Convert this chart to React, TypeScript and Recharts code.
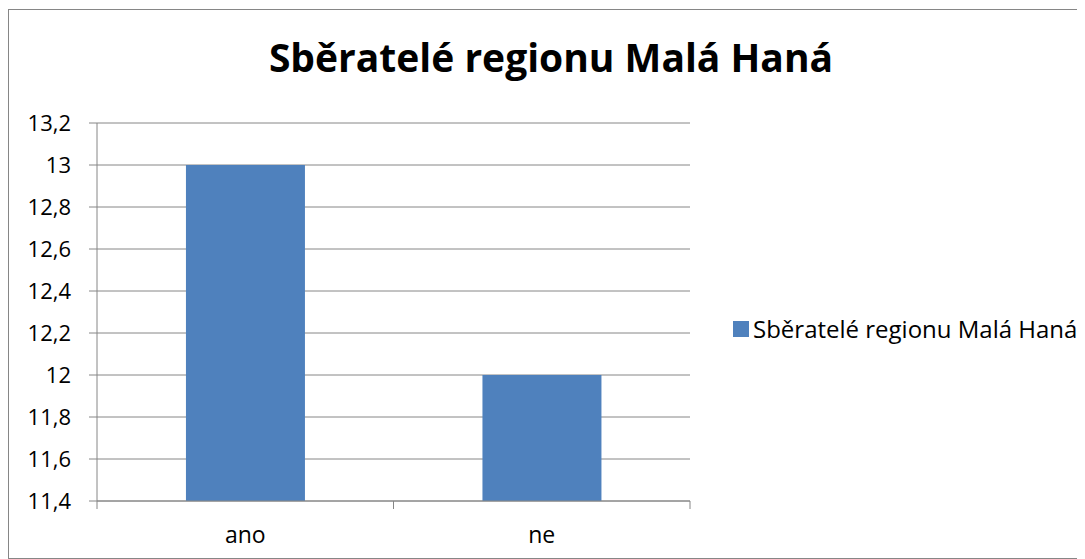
import React from 'react';
import { BarChart, Bar, XAxis, YAxis, CartesianGrid } from 'recharts';

const categories = ['ano', 'ne'];
const seriesName = 'Sběratelé regionu Malá Haná';
const seriesValues = [13, 12];
const yTicks = [11.4, 11.6, 11.8, 12, 12.2, 12.4, 12.6, 12.8, 13, 13.2];
const titleText = 'Sběratelé regionu Malá Haná';

const data = categories.map((c, i) => ({ name: c, value: seriesValues[i] }));

const FONT = '"Open Sans", sans-serif';
const GRAY = '#868686';
const BLUE = '#4f81bd';

const fmt = (v: number) => {
  if (Math.abs(v - Math.round(v)) < 1e-9) return String(Math.round(v));
  return v.toFixed(1).replace('.', ',');
};

const XTick = (props: any) => {
  const { x, y, payload, width, visibleTicksCount } = props;
  const half = payload && payload.offset ? payload.offset : (width / (visibleTicksCount || categories.length)) / 2;
  return (
    <g>
      <line x1={x - half} x2={x - half} y1={y} y2={y + 8} stroke={GRAY} strokeWidth={1} />
      <line x1={x + half} x2={x + half} y1={y} y2={y + 8} stroke={GRAY} strokeWidth={1} />
      <text x={x} y={y + 42} textAnchor="middle" fontFamily={FONT} fontSize={23} fill="#000">
        {payload.value}
      </text>
    </g>
  );
};

export default function App() {
  return (
    <div style={{ paddingTop: 1 }}>
      <div
        style={{
          position: 'relative',
          width: 1075,
          height: 548,
          border: `1px solid ${GRAY}`,
          background: '#fff',
        }}
      >
        <div
          style={{
            position: 'absolute',
            left: 0,
            width: 1084,
            top: 27,
            textAlign: 'center',
            fontFamily: FONT,
            fontWeight: 700,
            fontSize: 39,
            lineHeight: '39px',
            color: '#000',
            whiteSpace: 'nowrap',
          }}
        >
          {titleText}
        </div>
        <div
          style={{
            position: 'absolute',
            left: 724,
            top: 307,
            display: 'flex',
            alignItems: 'center',
            lineHeight: '24px',
          }}
        >
          <span style={{ display: 'inline-block', width: 16, height: 16, background: BLUE, marginRight: 4 }} />
          <span style={{ fontFamily: FONT, fontSize: 24, color: '#000', whiteSpace: 'nowrap' }}>{seriesName}</span>
        </div>
        <BarChart
          width={1075}
          height={548}
          data={data}
          margin={{ top: 113, right: 394, bottom: 17, left: 0 }}
          barCategoryGap="30%"
        >
          <CartesianGrid vertical={false} stroke={GRAY} strokeDasharray="" />
          <XAxis
            dataKey="name"
            axisLine={{ stroke: GRAY }}
            tickLine={false}
            tickSize={0}
            tickMargin={0}
            height={40}
            interval={0}
            tick={<XTick />}
          />
          <YAxis
            width={88}
            domain={[11.4, 13.2]}
            ticks={yTicks}
            interval={0}
            tickFormatter={fmt}
            axisLine={{ stroke: GRAY }}
            tickLine={{ stroke: GRAY }}
            tickSize={8}
            tickMargin={18}
            tick={{ fontFamily: FONT, fontSize: 22, fill: '#000' }}
            allowDataOverflow
          />
          <Bar dataKey="value" name={seriesName} fill={BLUE} isAnimationActive={false} />
        </BarChart>
      </div>
    </div>
  );
}
